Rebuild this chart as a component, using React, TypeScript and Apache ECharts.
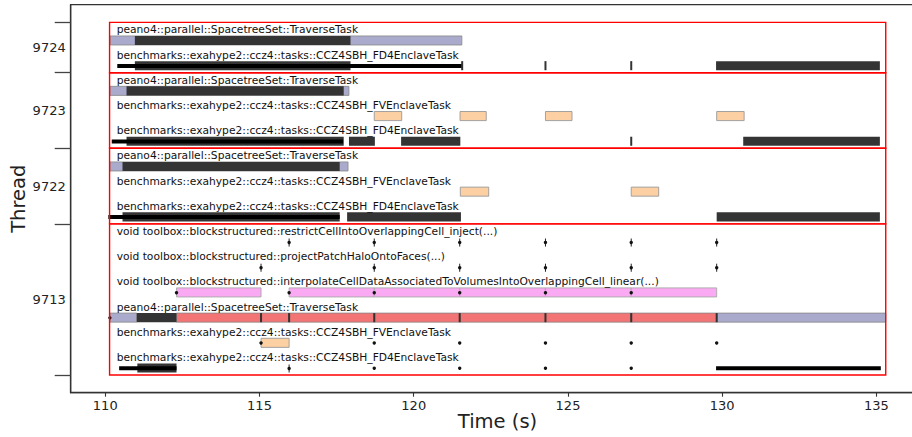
import React, { useEffect, useRef } from "react";
import * as echarts from "echarts";

// ---- axes ----
const threadNames = ["9724", "9723", "9722", "9713"];
const threadEdges = [0, 2, 5, 8, 14];
const xTicks = [110, 115, 120, 125, 130, 135];
const xRange = [108.88, 136.55];
const yRange = [-0.7, 14.7];

// ---- rows (task type per row) ----
const rowLabels = [
  "peano4::parallel::SpacetreeSet::TraverseTask",
  "benchmarks::exahype2::ccz4::tasks::CCZ4SBH_FD4EnclaveTask",
  "peano4::parallel::SpacetreeSet::TraverseTask",
  "benchmarks::exahype2::ccz4::tasks::CCZ4SBH_FVEnclaveTask",
  "benchmarks::exahype2::ccz4::tasks::CCZ4SBH_FD4EnclaveTask",
  "peano4::parallel::SpacetreeSet::TraverseTask",
  "benchmarks::exahype2::ccz4::tasks::CCZ4SBH_FVEnclaveTask",
  "benchmarks::exahype2::ccz4::tasks::CCZ4SBH_FD4EnclaveTask",
  "void toolbox::blockstructured::restrictCellIntoOverlappingCell_inject(...)",
  "void toolbox::blockstructured::projectPatchHaloOntoFaces(...)",
  "void toolbox::blockstructured::interpolateCellDataAssociatedToVolumesIntoOverlappingCell_linear(...)",
  "peano4::parallel::SpacetreeSet::TraverseTask",
  "benchmarks::exahype2::ccz4::tasks::CCZ4SBH_FVEnclaveTask",
  "benchmarks::exahype2::ccz4::tasks::CCZ4SBH_FD4EnclaveTask",
];
const boxSpan = [110.14, 135.3];
const labelTime = 110.37;

// ---- events: [row, start, end] ----
const idleTraverse = [
  [0, 110.16, 121.56],
  [2, 110.15, 117.9],
  [5, 110.15, 117.87],
  [11, 110.15, 111.02],
  [11, 129.82, 135.3],
];
const busyTraverse = [
  [11, 112.31, 115.05],
  [11, 115.05, 115.96],
  [11, 115.96, 118.72],
  [11, 118.72, 121.49],
  [11, 121.49, 124.27],
  [11, 124.27, 127.05],
  [11, 127.05, 129.82],
];
const denseTasks = [
  [0, 110.96, 117.95],
  [1, 110.96, 117.95],
  [1, 129.8, 135.11],
  [2, 110.69, 117.73],
  [4, 110.69, 117.73],
  [4, 117.9, 118.74],
  [4, 119.59, 121.51],
  [4, 130.68, 135.11],
  [5, 110.56, 117.6],
  [7, 110.56, 117.6],
  [7, 117.84, 121.53],
  [7, 129.82, 135.11],
  [11, 111.02, 112.31],
  [13, 111.04, 112.31],
];
const fvTasks = [
  [3, 118.72, 119.61],
  [3, 121.5, 122.35],
  [3, 124.27, 125.13],
  [3, 129.82, 130.71],
  [6, 121.51, 122.43],
  [6, 127.05, 127.94],
  [12, 115.05, 115.96],
];
const interpTasks = [
  [10, 112.31, 115.05],
  [10, 115.96, 118.72],
  [10, 118.72, 121.49],
  [10, 121.49, 124.27],
  [10, 124.27, 127.05],
  [10, 127.05, 129.82],
];
const spanLines = [
  [1, 110.39, 121.57],
  [4, 110.21, 117.71],
  [7, 110.1, 117.6],
  [13, 110.45, 112.31],
  [13, 129.8, 135.14],
];
// ---- instants: [row, time] ----
const tickMarks = [
  [1, 121.57], [1, 124.27], [1, 127.05],
  [4, 127.05],
  [11, 115.05], [11, 115.96], [11, 118.72], [11, 121.49], [11, 124.27], [11, 127.05], [11, 129.82],
];
const pinMarks = [
  [8, 115.96], [8, 118.72], [8, 121.49], [8, 124.27], [8, 127.05], [8, 129.82],
  [9, 115.05], [9, 118.72], [9, 121.49], [9, 124.27], [9, 127.05], [9, 129.82],
  [13, 115.96],
];
const dotMarks = [
  [10, 112.31], [10, 115.96], [10, 118.72], [10, 121.49], [10, 124.27], [10, 127.05],
  [11, 110.15],
  [12, 115.05], [12, 118.72], [12, 121.49], [12, 124.27], [12, 127.05], [12, 129.82],
  [13, 118.72], [13, 121.49], [13, 124.27], [13, 127.05],
];

const FONT = "DejaVu Sans";

function barRender(fill: string, stroke: string, lw: number, top: number, bottom: number) {
  return (params: any, api: any) => {
    const row = api.value(0);
    const a = api.coord([api.value(1), row + top]);
    const b = api.coord([api.value(2), row + bottom]);
    const w = Math.max(b[0] - a[0], 1.5);
    return {
      type: "rect",
      shape: { x: a[0], y: a[1], width: w, height: b[1] - a[1] },
      style: { fill, stroke: lw > 0 ? stroke : "none", lineWidth: lw },
    };
  };
}

function tickRender(color: string, width: number, top: number, bottom: number, dot: boolean) {
  return (params: any, api: any) => {
    const row = api.value(0);
    const t = api.value(1);
    const a = api.coord([t, row + top]);
    const b = api.coord([t, row + bottom]);
    const children: any[] = [
      { type: "line", shape: { x1: a[0], y1: a[1], x2: b[0], y2: b[1] }, style: { stroke: color, lineWidth: width } },
    ];
    if (dot) {
      const c = api.coord([t, row + (top + bottom) / 2]);
      children.push({ type: "circle", shape: { cx: c[0], cy: c[1], r: 1.7 }, style: { fill: "#111" } });
    }
    return { type: "group", children };
  };
}

function dotRender(params: any, api: any) {
  const c = api.coord([api.value(1), api.value(0) + 0.73]);
  return { type: "circle", shape: { cx: c[0], cy: c[1], r: 1.7 }, style: { fill: "#111" } };
}

export default function App() {
  const ref = useRef<HTMLDivElement>(null);
  useEffect(() => {
    document.body.style.margin = "0";
    if (!ref.current) return;
    const chart = echarts.init(ref.current, undefined, { renderer: "svg" });
    const mids = threadNames.map((_, k) => (threadEdges[k] + threadEdges[k + 1]) / 2);
    const bandData = threadNames.map((_, k) => [threadEdges[k], threadEdges[k + 1]]);
    const labelData = rowLabels.map((_, i) => [i, labelTime]);

    const custom = (name: string, data: any[], renderItem: any, z: number, encode: any = { x: [1, 2], y: 0 }) => ({
      type: "custom",
      name,
      data,
      renderItem,
      encode,
      z,
      silent: true,
      clip: false,
    });

    chart.setOption({
      animation: false,
      textStyle: { fontFamily: FONT },
      grid: {
        left: 70.7,
        right: -12.3,
        top: 4.7,
        bottom: 44.3,
        show: true,
        borderColor: "#333",
        borderWidth: 1.3,
        containLabel: false,
        outerBoundsMode: "none",
      },
      xAxis: {
        type: "value",
        min: xRange[0],
        max: xRange[1],
        axisLine: { show: true, onZero: false, lineStyle: { color: "#333", width: 1.3 } },
        axisTick: { show: true, length: 4, customValues: xTicks, lineStyle: { color: "#333", width: 1.1 } },
        axisLabel: { customValues: xTicks, fontSize: 13, color: "#222", margin: 6, fontFamily: FONT },
        splitLine: { show: false },
        name: "Time (s)",
        nameLocation: "middle",
        nameGap: 19,
        nameMoveOverlap: false,
        nameTextStyle: { fontSize: 19.5, color: "#222", fontFamily: FONT },
      },
      yAxis: {
        type: "value",
        inverse: true,
        min: yRange[0],
        max: yRange[1],
        axisLine: { show: true, onZero: false, lineStyle: { color: "#333", width: 1.3 } },
        axisTick: { show: true, length: 16, customValues: threadEdges, lineStyle: { color: "#444", width: 1.3 } },
        axisLabel: {
          customValues: mids,
          fontSize: 13,
          color: "#222",
          margin: 5,
          fontFamily: FONT,
          formatter: (v: number) => {
            const k = mids.findIndex((m) => Math.abs(m - v) < 1e-6);
            return k >= 0 ? threadNames[k] : "";
          },
        },
        splitLine: { show: false },
        name: "Thread",
        nameLocation: "middle",
        nameGap: 42,
        nameMoveOverlap: false,
        nameTextStyle: { fontSize: 19.5, color: "#222", fontFamily: FONT },
      },
      series: [
        custom("idle", idleTraverse, barRender("#aaaacc", "#888", 0.8, 0.54, 0.9), 2),
        custom("busy", busyTraverse, barRender("#f27474", "#888", 0.8, 0.54, 0.9), 3),
        custom("dense", denseTasks, barRender("#343434", "#343434", 0, 0.54, 0.9), 4),
        custom("fv", fvTasks, barRender("#fdd0a4", "#999", 0.9, 0.54, 0.9), 4),
        custom("interp", interpTasks, barRender("#f9aaf2", "#aaa", 0.9, 0.54, 0.9), 4),
        custom("span", spanLines, barRender("#000", "#000", 0, 0.65, 0.81), 5),
        custom("ticks", tickMarks, tickRender("#333", 2, 0.54, 0.9, false), 6, { x: 1, y: 0 }),
        custom("pins", pinMarks, tickRender("#222", 1, 0.58, 0.9, true), 6, { x: 1, y: 0 }),
        custom("dots", dotMarks, dotRender, 6, { x: 1, y: 0 }),
        custom(
          "threadBoxes",
          bandData,
          (params: any, api: any) => {
            const a = api.coord([boxSpan[0], api.value(0)]);
            const b = api.coord([boxSpan[1], api.value(1)]);
            return {
              type: "rect",
              shape: { x: a[0], y: a[1], width: b[0] - a[0], height: b[1] - a[1] },
              style: { fill: "none", stroke: "#ff0000", lineWidth: 1.4 },
            };
          },
          7,
          { y: [0, 1] }
        ),
        custom(
          "rowLabels",
          labelData,
          (params: any, api: any) => {
            const i = api.value(0);
            const p = api.coord([api.value(1), i + 0.3]);
            return {
              type: "text",
              x: p[0],
              y: p[1],
              style: {
                text: rowLabels[params.dataIndex],
                fontSize: 10.7,
                fontFamily: FONT,
                fill: "#111",
                align: "left",
                verticalAlign: "middle",
              },
            };
          },
          8,
          { x: 1, y: 0 }
        ),
      ],
    });
    return () => chart.dispose();
  }, []);
  return <div ref={ref} style={{ width: 912, height: 437 }} />;
}
